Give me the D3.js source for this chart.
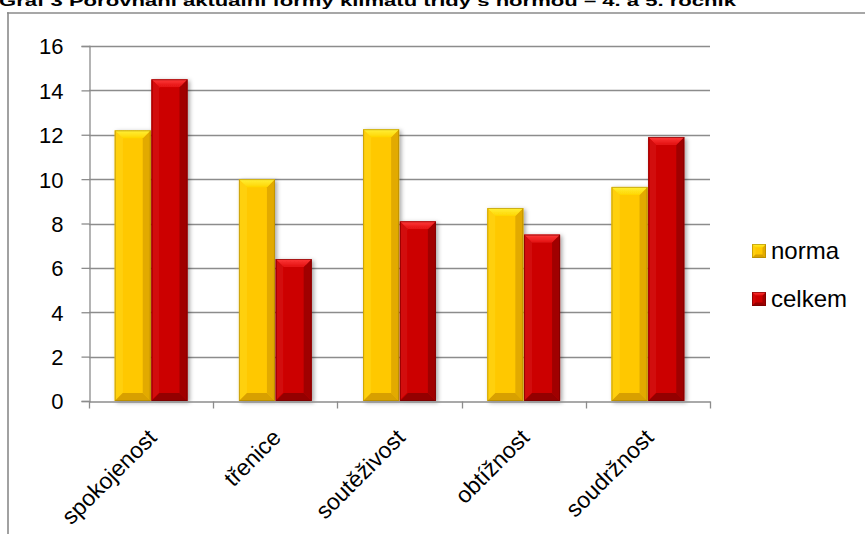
<!DOCTYPE html>
<html>
<head>
<meta charset="utf-8">
<script src="https://cdn.jsdelivr.net/npm/d3@7"></script>
<style>
  html, body { margin: 0; padding: 0; background: #fff; }
  svg { display: block; }
  text { font-family: "Liberation Sans", "DejaVu Sans", sans-serif; fill: #000; }
</style>
</head>
<body>
<svg id="chart" width="865" height="534"></svg>
<script>
// Chart data
const categories = ["spokojenost", "třenice", "soutěživost", "obtížnost", "soudržnost"];
const seriesNames = ["norma", "celkem"];
const normaValues = [12.2, 10.0, 12.25, 8.7, 9.65];
const celkemValues = [14.5, 6.4, 8.1, 7.5, 11.9];
const yTicks = [0, 2, 4, 6, 8, 10, 12, 14, 16];
const titleText = "Graf 3 Porovnání aktuální formy klimatu třídy s normou – 4. a 5. ročník";

const palettes = {
  norma:  { base: "#FFC800", top: "#FFF13A", topEnd: "#FFD500", left: "#FFD010", right: "#E2AA00", bottom: "#D8A000", edge: "#A88300" },
  celkem: { base: "#CC0000", top: "#FF3A3A", topEnd: "#E21010", left: "#D20808", right: "#A00000", bottom: "#940000", edge: "#700000" }
};

const svg = d3.select("#chart");
const plot = { left: 89, right: 710, top: 46, bottom: 401 };
const fontSize = 23;

const x0 = d3.scaleBand().domain(categories).range([plot.left, plot.right]).paddingInner(0).paddingOuter(0);
const x1 = d3.scaleBand().domain(seriesNames).range([0, x0.bandwidth()]).paddingInner(0.02).paddingOuter(0.7);
const y = d3.scaleLinear().domain([0, 16]).range([plot.bottom, plot.top]);

// Shadow filter
const defs = svg.append("defs");
const f = defs.append("filter").attr("id", "shadow").attr("x", "-30%").attr("y", "-10%").attr("width", "160%").attr("height", "130%");
f.append("feDropShadow").attr("dx", 2).attr("dy", 1.5).attr("stdDeviation", 2).attr("flood-color", "#000").attr("flood-opacity", 0.35);

// Gradients for bevel tops
seriesNames.forEach(s => {
  const g = defs.append("linearGradient").attr("id", "top-" + s).attr("x1", 0).attr("y1", 0).attr("x2", 0).attr("y2", 1);
  g.append("stop").attr("offset", "0%").attr("stop-color", palettes[s].top);
  g.append("stop").attr("offset", "100%").attr("stop-color", palettes[s].topEnd);
});

// Chart frame
svg.append("line").attr("x1", 7).attr("y1", 13).attr("x2", 865).attr("y2", 13).attr("stroke", "#8a8a8a").attr("stroke-width", 1.6);
svg.append("line").attr("x1", 8).attr("y1", 12.2).attr("x2", 8).attr("y2", 534).attr("stroke", "#8a8a8a").attr("stroke-width", 1.6);

// Title
svg.append("text")
  .attr("x", -1).attr("y", 6)
  .attr("font-size", 15).attr("font-weight", "bold")
  .attr("textLength", 737).attr("lengthAdjust", "spacingAndGlyphs")
  .text(titleText);

// Gridlines
svg.append("g").selectAll("line").data(yTicks.filter(d => d > 0)).join("line")
  .attr("x1", plot.left).attr("x2", plot.right)
  .attr("y1", d => Math.round(y(d)) + 0.5).attr("y2", d => Math.round(y(d)) + 0.5)
  .attr("stroke", "#8C8C8C").attr("stroke-width", 1.3);

// Y axis
const yAxis = d3.axisLeft(y).tickValues(yTicks).tickSize(8).tickPadding(18).tickFormat(d3.format("d"));
const yg = svg.append("g").attr("transform", `translate(${plot.left + 0.5},0)`).call(yAxis);
yg.select(".domain").attr("stroke", "#8C8C8C").attr("stroke-width", 1.3);
yg.selectAll(".tick line").attr("stroke", "#8C8C8C").attr("stroke-width", 1.3);
yg.selectAll(".tick text").attr("font-size", fontSize - 1).attr("fill", "#000")
  .attr("font-family", "'Liberation Sans', sans-serif").attr("dy", "0.36em");

// Bars with bevel shading
function bevelBar(g, x, yTop, w, h, p, bevel) {
  const b = Math.min(bevel, w / 4, h / 2);
  const yb = yTop + h, xr = x + w;
  g.append("rect").attr("x", x).attr("y", yTop).attr("width", w).attr("height", h).attr("fill", p.base);
  g.append("polygon").attr("points", `${x},${yTop} ${x + b},${yTop + b} ${x + b},${yb - b} ${x},${yb}`).attr("fill", p.left);
  g.append("polygon").attr("points", `${xr},${yTop} ${xr - b},${yTop + b} ${xr - b},${yb - b} ${xr},${yb}`).attr("fill", p.right);
  g.append("polygon").attr("points", `${x},${yb} ${x + b},${yb - b} ${xr - b},${yb - b} ${xr},${yb}`).attr("fill", p.bottom);
  g.append("polygon").attr("points", `${x},${yTop} ${xr},${yTop} ${xr - b},${yTop + b} ${x + b},${yTop + b}`).attr("fill", `url(#top-${p.id})`);
  g.append("rect").attr("x", x + 0.5).attr("y", yTop + 0.5).attr("width", w - 1).attr("height", h - 1)
    .attr("fill", "none").attr("stroke", p.edge).attr("stroke-width", 1).attr("stroke-opacity", 0.6);
}

const series = [
  { name: "norma", values: normaValues },
  { name: "celkem", values: celkemValues }
];

const barsG = svg.append("g");
series.forEach(s => {
  const p = Object.assign({ id: s.name }, palettes[s.name]);
  s.values.forEach((v, i) => {
    const c = categories[i];
    const bx = x0(c) + x1(s.name);
    const g = barsG.append("g").attr("filter", "url(#shadow)");
    bevelBar(g, bx, y(v), x1.bandwidth(), y(0) - y(v), p, 8);
  });
});

// X axis
const xAxis = d3.axisBottom(x0).tickSize(0).tickFormat("");
const xg = svg.append("g").attr("transform", `translate(0,${plot.bottom + 0.5})`).call(xAxis);
xg.select(".domain").attr("stroke", "#8C8C8C").attr("stroke-width", 1.3);
const bounds = categories.map(c => x0(c)).concat([x0(categories[categories.length - 1]) + x0.bandwidth()]);
xg.selectAll("line.bound").data(bounds).join("line").attr("class", "bound")
  .attr("x1", d => Math.round(d) + 0.5).attr("x2", d => Math.round(d) + 0.5)
  .attr("y1", 0).attr("y2", 7).attr("stroke", "#8C8C8C").attr("stroke-width", 1.3);

// Category labels
svg.append("g").selectAll("text").data(categories).join("text")
  .attr("transform", d => `translate(${x0(d) + x0.bandwidth() / 2 + 7},${plot.bottom + 38}) rotate(-45)`)
  .attr("text-anchor", "end")
  .attr("font-size", fontSize)
  .text(d => d);

// Legend
const legend = svg.append("g");
seriesNames.forEach((s, i) => {
  const ly = 244 + i * 48;
  const p = Object.assign({ id: s }, palettes[s]);
  bevelBar(legend.append("g"), 752, ly, 14, 14, p, 4);
  legend.append("text").attr("x", 771).attr("y", ly + 15).attr("font-size", fontSize + 1).text(s);
});
</script>
</body>
</html>
